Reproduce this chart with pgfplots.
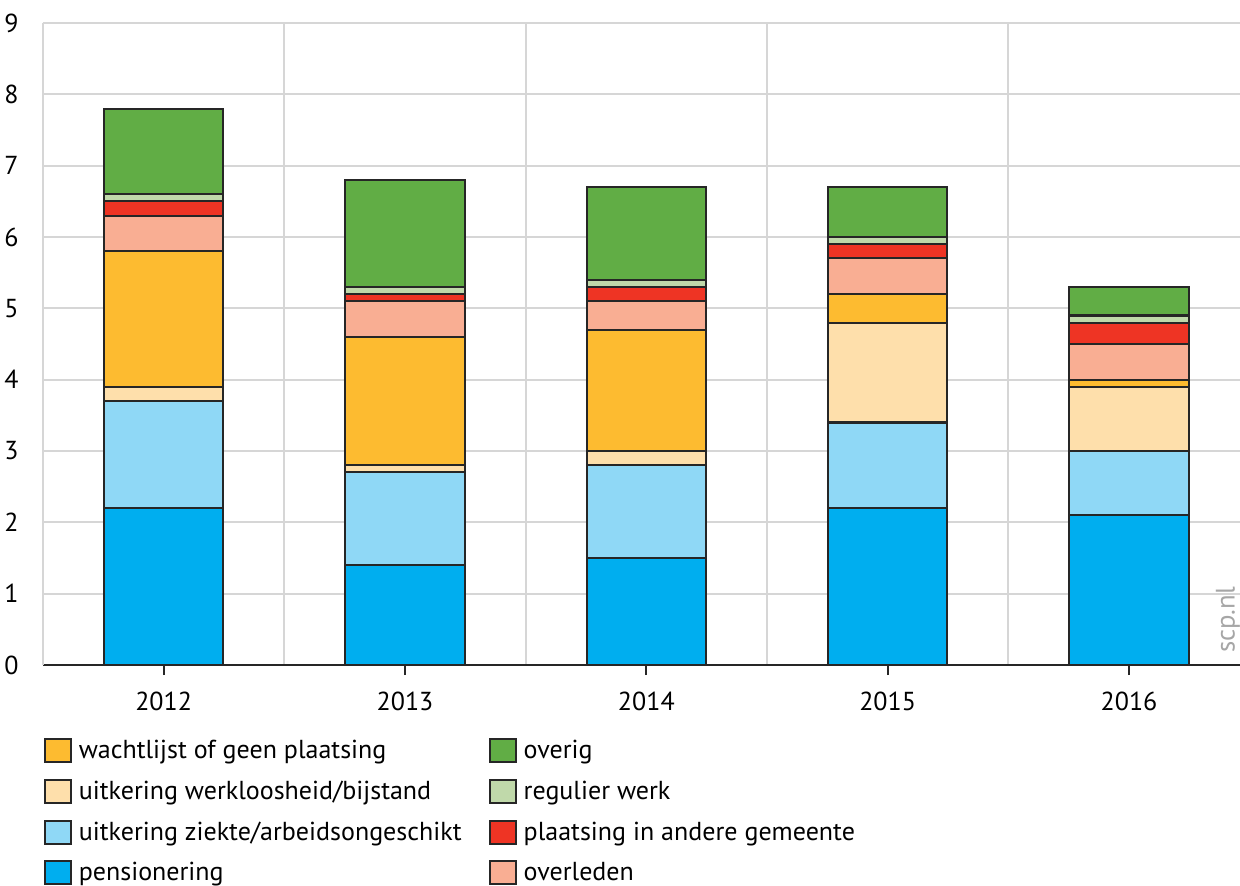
\documentclass[border=0pt]{standalone}
\usepackage{pgfplots}
\pgfplotsset{compat=1.18}
\usepackage{fontspec}
\setmainfont{PT Sans}

\definecolor{cpens}{HTML}{00AEEF}
\definecolor{cziek}{HTML}{8FD8F6}
\definecolor{cwerk}{HTML}{FEDFAB}
\definecolor{cwacht}{HTML}{FDBB30}
\definecolor{coverl}{HTML}{F9AE93}
\definecolor{cplaat}{HTML}{EE3424}
\definecolor{cregul}{HTML}{C0D9AA}
\definecolor{coverig}{HTML}{61AD45}
\definecolor{cgrid}{HTML}{D6D6D6}
\definecolor{cedge}{HTML}{262626}

% x: 0=2012 ... 4=2016
\pgfplotstableread{
x pens ziek werk wacht overl plaat regul overig
0 2.2 1.5 0.2 1.9 0.5 0.2 0.1 1.2
1 1.4 1.3 0.1 1.8 0.5 0.1 0.1 1.5
2 1.5 1.3 0.2 1.7 0.4 0.2 0.1 1.3
3 2.2 1.2 1.4 0.4 0.5 0.2 0.1 0.7
4 2.1 0.9 0.9 0.1 0.5 0.3 0.1 0.4
}\data

\begin{document}
\begin{tikzpicture}
\useasboundingbox (-0.43,-2.20) rectangle (11.97,6.65);
\begin{axis}[
    scale only axis,
    width=11.97cm, height=6.42cm,
    font=\fontsize{7.4}{9}\selectfont,
    ybar stacked, bar width=0.494,
    xmin=-0.5, xmax=4.46,
    ymin=0, ymax=9,
    ytick={0,...,9},
    xtick={0,...,4},
    xticklabels={2012,2013,2014,2015,2016},
    minor xtick={0.5,1.5,2.5,3.5},
    /pgf/number format/assume math mode=true,
    axis x line*=bottom, axis y line*=left,
    x axis line style={cedge, line width=0.6pt, -},
    y axis line style={cgrid, line width=0.6pt, -},
    ymajorgrids, xminorgrids,
    grid style={cgrid, line width=0.6pt},
    minor grid style={cgrid, line width=0.6pt},
    tick align=outside,
    x tick style={cedge, line width=0.6pt},
    minor x tick style={draw=none},
    major tick length=0.1cm,
    y tick style={draw=none},
    xticklabel style={yshift=-0.05cm},
    yticklabel style={xshift=-0.02cm},
    every axis plot/.append style={draw=cedge, line width=0.6pt},
    legend cell align=left,
    legend columns=2,
    legend style={at={(axis description cs:0,-0.105)}, anchor=north west,
        draw=none, inner sep=0pt, row sep=0.03cm,
        font=\fontsize{7.4}{9}\selectfont,
        /tikz/every even column/.append style={column sep=0.2cm}},
    legend image code/.code={\draw[#1, line width=0.6pt] (0cm,-0.1cm) rectangle (0.26cm,0.13cm);},
]
\addplot[fill=cpens, forget plot] table[x=x, y=pens] {\data};
\addplot[fill=cziek, forget plot] table[x=x, y=ziek] {\data};
\addplot[fill=cwerk, forget plot] table[x=x, y=werk] {\data};
\addplot[fill=cwacht, forget plot] table[x=x, y=wacht] {\data};
\addplot[fill=coverl, forget plot] table[x=x, y=overl] {\data};
\addplot[fill=cplaat, forget plot] table[x=x, y=plaat] {\data};
\addplot[fill=cregul, forget plot] table[x=x, y=regul] {\data};
\addplot[fill=coverig, forget plot] table[x=x, y=overig] {\data};

\addlegendimage{fill=cwacht, draw=cedge}
\addlegendentry{wachtlijst of geen plaatsing}
\addlegendimage{fill=coverig, draw=cedge}
\addlegendentry{overig}
\addlegendimage{fill=cwerk, draw=cedge}
\addlegendentry{uitkering werkloosheid/bijstand}
\addlegendimage{fill=cregul, draw=cedge}
\addlegendentry{regulier werk}
\addlegendimage{fill=cziek, draw=cedge}
\addlegendentry{uitkering ziekte/arbeidsongeschikt}
\addlegendimage{fill=cplaat, draw=cedge}
\addlegendentry{plaatsing in andere gemeente}
\addlegendimage{fill=cpens, draw=cedge}
\addlegendentry{pensionering}
\addlegendimage{fill=coverl, draw=cedge}
\addlegendentry{overleden}

\node[rotate=90, anchor=west, text=gray!70, font=\fontsize{7.6}{9}\selectfont]
    at (axis description cs:0.99,0.0) {scp.nl};
\end{axis}
\end{tikzpicture}
\end{document}
